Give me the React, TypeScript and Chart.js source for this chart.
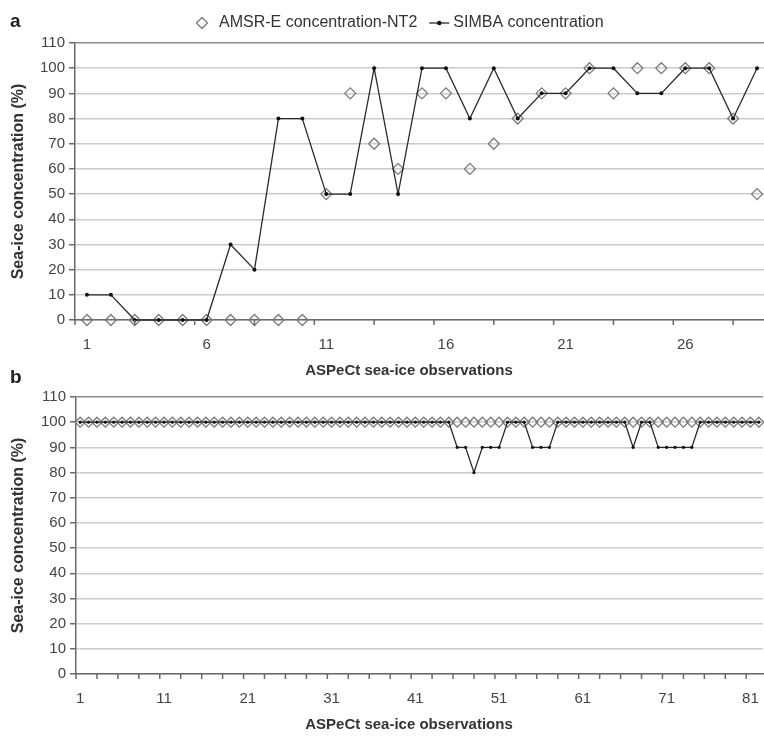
import React, { useEffect, useRef } from "react";
import { Chart, registerables } from "chart.js";

Chart.register(...registerables);

const FONT = "'Liberation Sans', Arial, Helvetica, sans-serif";

// ---------- data ----------
const topObservations = [
  "1", "2", "3", "4", "5", "6", "7", "8", "9", "10",
  "11", "12", "13", "14", "15", "16", "17", "18", "19", "20",
  "21", "22", "23", "24", "25", "26", "27", "28", "29",
];
const topAmsr = [
  0, 0, 0, 0, 0, 0, 0, 0, 0, 0,
  50, 90, 70, 60, 90, 90, 60, 70, 80, 90,
  90, 100, 90, 100, 100, 100, 100, 80, 50,
];
const topSimba = [
  10, 10, 0, 0, 0, 0, 30, 20, 80, 80,
  50, 50, 100, 50, 100, 100, 80, 100, 80, 90,
  90, 100, 100, 90, 90, 100, 100, 80, 100,
];

const bottomObservations = [
  "1", "2", "3", "4", "5", "6", "7", "8", "9", "10",
  "11", "12", "13", "14", "15", "16", "17", "18", "19", "20",
  "21", "22", "23", "24", "25", "26", "27", "28", "29", "30",
  "31", "32", "33", "34", "35", "36", "37", "38", "39", "40",
  "41", "42", "43", "44", "45", "46", "47", "48", "49", "50",
  "51", "52", "53", "54", "55", "56", "57", "58", "59", "60",
  "61", "62", "63", "64", "65", "66", "67", "68", "69", "70",
  "71", "72", "73", "74", "75", "76", "77", "78", "79", "80",
  "81", "82",
];
const bottomAmsr = [
  100, 100, 100, 100, 100, 100, 100, 100, 100, 100,
  100, 100, 100, 100, 100, 100, 100, 100, 100, 100,
  100, 100, 100, 100, 100, 100, 100, 100, 100, 100,
  100, 100, 100, 100, 100, 100, 100, 100, 100, 100,
  100, 100, 100, 100, 100, 100, 100, 100, 100, 100,
  100, 100, 100, 100, 100, 100, 100, 100, 100, 100,
  100, 100, 100, 100, 100, 100, 100, 100, 100, 100,
  100, 100, 100, 100, 100, 100, 100, 100, 100, 100,
  100, 100,
];
const bottomSimba = [
  100, 100, 100, 100, 100, 100, 100, 100, 100, 100,
  100, 100, 100, 100, 100, 100, 100, 100, 100, 100,
  100, 100, 100, 100, 100, 100, 100, 100, 100, 100,
  100, 100, 100, 100, 100, 100, 100, 100, 100, 100,
  100, 100, 100, 100, 100, 90, 90, 80, 90, 90,
  90, 100, 100, 100, 90, 90, 90, 100, 100, 100,
  100, 100, 100, 100, 100, 100, 90, 100, 100, 90,
  90, 90, 90, 90, 100, 100, 100, 100, 100, 100,
  100, 100,
];

const yAxisRange = [0, 110];
const yAxisStep = 10;
const seriesNames = ["AMSR-E concentration-NT2", "SIMBA concentration"];
const xAxisTitle = "ASPeCt sea-ice observations";
const yAxisTitle = "Sea-ice concentration (%)";

// ---------- styles ----------
const AXIS = "#6a6a6a";
const GRID = "#cbcbcb";
const TOPLINE = "#8c8c8c";
const TEXT = "#333333";
const TICKTEXT = "#444444";
const DIAMOND = "#7a7a7a";
const LINE = "#2a2a2a";

interface Panel {
  letter: string;
  labels: string[];
  amsr: number[];
  simba: number[];
  labelEvery: number;
  width: number;
  height: number;
  top: number;
  plotHeight: number;
  padTop: number;
  padRight: number;
  yWidth: number;
  xHeight: number;
  diamondR: number;
  dotR: number;
  legend: boolean;
  letterY: number;
}

function drawDiamond(ctx: CanvasRenderingContext2D, x: number, y: number, r: number) {
  ctx.beginPath();
  ctx.moveTo(x - r, y);
  ctx.lineTo(x, y - r);
  ctx.lineTo(x + r, y);
  ctx.lineTo(x, y + r);
  ctx.closePath();
  ctx.stroke();
}

function makeExtras(p: Panel) {
  return {
    id: "extras" + p.letter,
    afterDraw(chart: any) {
      const ctx: CanvasRenderingContext2D = chart.ctx;
      const area = chart.chartArea;
      const xs = chart.scales.x;
      const n = p.labels.length;
      ctx.save();
      // x tick marks every 2.5 categories
      ctx.strokeStyle = AXIS;
      ctx.lineWidth = 1.5;
      ctx.beginPath();
      for (let v = -0.5; v <= n - 0.5 + 0.001; v += 2.5) {
        const px = xs.getPixelForValue(v);
        ctx.moveTo(px, area.bottom);
        ctx.lineTo(px, area.bottom + 5);
      }
      ctx.stroke();

      ctx.fillStyle = TEXT;
      ctx.textAlign = "center";
      ctx.textBaseline = "middle";
      ctx.font = `bold 15px ${FONT}`;
      ctx.fillText(xAxisTitle, 409, area.bottom + 51);

      ctx.save();
      ctx.translate(19, (area.top + area.bottom) / 2);
      ctx.rotate(-Math.PI / 2);
      ctx.font = `bold 16px ${FONT}`;
      ctx.fillText(yAxisTitle, 0, 0);
      ctx.restore();

      ctx.textAlign = "left";
      ctx.font = `bold 19px ${FONT}`;
      ctx.fillStyle = "#222";
      ctx.fillText(p.letter, 10, p.letterY);

      if (p.legend) {
        const ly = 23;
        ctx.font = `16px ${FONT}`;
        ctx.fillStyle = TEXT;
        ctx.strokeStyle = DIAMOND;
        ctx.lineWidth = 1.3;
        drawDiamond(ctx, 202, ly, 5.5);
        let x = 219;
        ctx.fillText(seriesNames[0], x, ly);
        x += ctx.measureText(seriesNames[0]).width + 12;
        ctx.strokeStyle = LINE;
        ctx.lineWidth = 1.3;
        ctx.beginPath();
        ctx.moveTo(x, ly);
        ctx.lineTo(x + 20, ly);
        ctx.stroke();
        ctx.fillStyle = "#111";
        ctx.beginPath();
        ctx.arc(x + 10, ly, 2.2, 0, Math.PI * 2);
        ctx.fill();
        ctx.fillStyle = TEXT;
        ctx.fillText(seriesNames[1], x + 24, ly);
      }
      ctx.restore();
    },
  };
}

function PanelChart({ p }: { p: Panel }) {
  const ref = useRef<HTMLCanvasElement | null>(null);
  useEffect(() => {
    if (!ref.current) return;
    const chart = new Chart(ref.current, {
      type: "line",
      data: {
        labels: p.labels,
        datasets: [
          {
            label: seriesNames[0],
            data: p.amsr,
            showLine: false,
            pointStyle: "rectRot",
            pointRadius: p.diamondR,
            pointBorderColor: DIAMOND,
            pointBackgroundColor: "rgba(255,255,255,0)",
            pointBorderWidth: 1.3,
            borderColor: DIAMOND,
            order: 2,
            clip: false as any,
          },
          {
            label: seriesNames[1],
            data: p.simba,
            borderColor: LINE,
            borderWidth: 1.3,
            pointStyle: "circle",
            pointRadius: p.dotR,
            pointBackgroundColor: "#111",
            pointBorderColor: "#111",
            pointBorderWidth: 0,
            tension: 0,
            order: 1,
            clip: false as any,
          },
        ],
      },
      options: {
        responsive: false,
        animation: false,
        devicePixelRatio: 1,
        layout: {
          autoPadding: false,
          padding: {
            top: p.padTop,
            right: p.padRight,
            left: 0,
            bottom: p.height - p.plotHeight,
          },
        },
        plugins: {
          legend: { display: false },
          tooltip: { enabled: false },
        },
        events: [],
        scales: {
          x: {
            type: "category",
            offset: true,
            afterFit: (s: any) => {
              s.height = p.xHeight;
              s.paddingLeft = 0;
              s.paddingRight = 0;
            },
            grid: {
              display: true,
              drawOnChartArea: false,
              drawTicks: true,
              tickLength: 16,
              tickColor: "rgba(0,0,0,0)",
            },
            border: { display: true, color: AXIS, width: 1.5 },
            ticks: {
              autoSkip: false,
              maxRotation: 0,
              minRotation: 0,
              padding: 0,
              color: TICKTEXT,
              font: { family: FONT, size: 15 },
              callback: (_v: any, i: number) => (i % p.labelEvery === 0 ? p.labels[i] : ""),
            },
          },
          y: {
            min: yAxisRange[0],
            max: yAxisRange[1],
            afterFit: (s: any) => {
              s.width = p.yWidth;
            },
            grid: {
              color: (c: any) => (c.tick && c.tick.value === yAxisRange[1] ? TOPLINE : GRID),
              lineWidth: 1.5,
              tickColor: AXIS,
              tickLength: 6,
              drawTicks: true,
            },
            border: { display: true, color: AXIS, width: 1.5 },
            ticks: {
              stepSize: yAxisStep,
              padding: 4,
              color: TICKTEXT,
              font: { family: FONT, size: 15 },
            },
          },
        },
      },
      plugins: [makeExtras(p)],
    } as any);
    return () => chart.destroy();
  }, [p]);
  return (
    <canvas
      ref={ref}
      width={p.width}
      height={p.height}
      style={{
        display: "block",
        position: "absolute",
        left: 0,
        top: p.top,
        width: p.width,
        height: p.height,
      }}
    />
  );
}

const topPanel: Panel = {
  letter: "a",
  labels: topObservations,
  amsr: topAmsr,
  simba: topSimba,
  labelEvery: 5,
  width: 769,
  height: 390,
  top: 0,
  plotHeight: 362,
  padTop: 43,
  padRight: 0,
  yWidth: 75,
  xHeight: 42,
  diamondR: 5.5,
  dotR: 2,
  legend: true,
  letterY: 22,
};

const bottomPanel: Panel = {
  letter: "b",
  labels: bottomObservations,
  amsr: bottomAmsr,
  simba: bottomSimba,
  labelEvery: 10,
  width: 764,
  height: 374,
  top: 362,
  plotHeight: 374,
  padTop: 35,
  padRight: 1,
  yWidth: 76,
  xHeight: 62,
  diamondR: 5,
  dotR: 1.6,
  legend: false,
  letterY: 16,
};

export default function App() {
  return (
    <div
      style={{
        position: "absolute",
        left: 0,
        top: 0,
        width: 764,
        height: 736,
        overflow: "hidden",
        background: "#fff",
      }}
    >
      <PanelChart p={topPanel} />
      <PanelChart p={bottomPanel} />
    </div>
  );
}
